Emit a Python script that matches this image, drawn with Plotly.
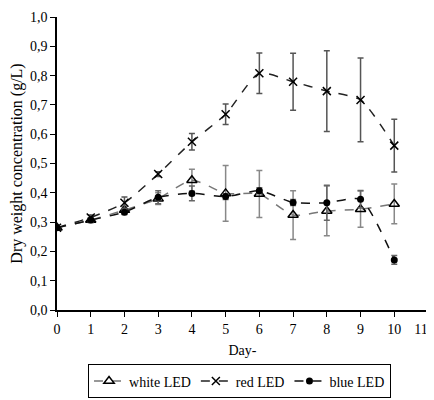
import plotly.graph_objects as go

days = [0, 1, 2, 3, 4, 5, 6, 7, 8, 9, 10]
white = [0.281, 0.307, 0.341, 0.380, 0.443, 0.398, 0.396, 0.324, 0.338, 0.344, 0.362]
white_err = [0.005, 0.008, 0.012, 0.020, 0.037, 0.095, 0.080, 0.083, 0.085, 0.062, 0.068]
red = [0.281, 0.316, 0.366, 0.464, 0.574, 0.668, 0.808, 0.779, 0.747, 0.717, 0.561]
red_err = [0.005, 0.008, 0.020, 0.008, 0.028, 0.035, 0.069, 0.097, 0.138, 0.143, 0.090]
blue = [0.281, 0.307, 0.334, 0.385, 0.398, 0.387, 0.407, 0.367, 0.366, 0.378, 0.171]
blue_err = [0.005, 0.008, 0.008, 0.022, 0.025, 0.010, 0.010, 0.010, 0.060, 0.030, 0.015]

x_tick_vals = [0, 1, 2, 3, 4, 5, 6, 7, 8, 9, 10, 11]
x_tick_text = ["0", "1", "2", "3", "4", "5", "6", "7", "8", "9", "10", "11\u2007\u2007"]

FONT = "Liberation Serif, Times New Roman, Times, serif"

fig = go.Figure()
fig.add_trace(go.Scatter(
    x=days, y=white, name="white LED", mode="lines+markers",
    line=dict(color="#777777", dash="dash", width=1.5, shape="spline", smoothing=0.6),
    marker=dict(symbol="triangle-up-open", size=9, color="black", line=dict(width=1.5, color="black")),
    error_y=dict(type="data", array=white_err, color="#888888", thickness=1.5, width=3),
))
fig.add_trace(go.Scatter(
    x=days, y=red, name="red LED", mode="lines+markers",
    line=dict(color="#222222", dash="dash", width=1.5, shape="spline", smoothing=0.6),
    marker=dict(symbol="x-thin-open", size=8, color="black", line=dict(width=1.5, color="black")),
    error_y=dict(type="data", array=red_err, color="#555555", thickness=1.5, width=3),
))
fig.add_trace(go.Scatter(
    x=days, y=blue, name="blue LED", mode="lines+markers",
    line=dict(color="#111111", dash="dash", width=1.5, shape="spline", smoothing=0.6),
    marker=dict(symbol="circle", size=7, color="black"),
    error_y=dict(type="data", array=blue_err, color="#666666", thickness=1.5, width=3),
))

fig.update_layout(
    width=426, height=392,
    margin=dict(l=49, r=6, t=9, b=90, autoexpand=False),
    paper_bgcolor="white", plot_bgcolor="white",
    separators=",.",
    font=dict(family=FONT, size=14, color="black"),
    showlegend=True,
    legend=dict(orientation="h", x=0.492, xanchor="center", yref="container", y=0.004, yanchor="bottom",
                bordercolor="black", borderwidth=1, font=dict(family=FONT, size=14),
                itemwidth=30, tracegroupgap=0),
    xaxis=dict(range=[0, 11], tickmode="array", tickvals=x_tick_vals, ticktext=x_tick_text,
               automargin=False,
               showline=True, linecolor="black", linewidth=1.5, ticklabeloverflow="allow",
               ticks="outside", ticklen=5, tickcolor="black", showgrid=False, zeroline=False,
               title=dict(text="Day-", font=dict(family=FONT, size=14), standoff=10),
               tickfont=dict(family=FONT, size=14)),
    yaxis=dict(range=[0, 1.0], tickmode="linear", tick0=0, dtick=0.1, tickformat=".1f", automargin=False,
               showline=True, linecolor="black", linewidth=1.5,
               ticks="outside", ticklen=5, tickcolor="black", showgrid=False, zeroline=False,
               title=dict(text="Dry weight concentration (g/L)", font=dict(family=FONT, size=16), standoff=10),
               tickfont=dict(family=FONT, size=14)),
)

fig.write_html("out.html")
